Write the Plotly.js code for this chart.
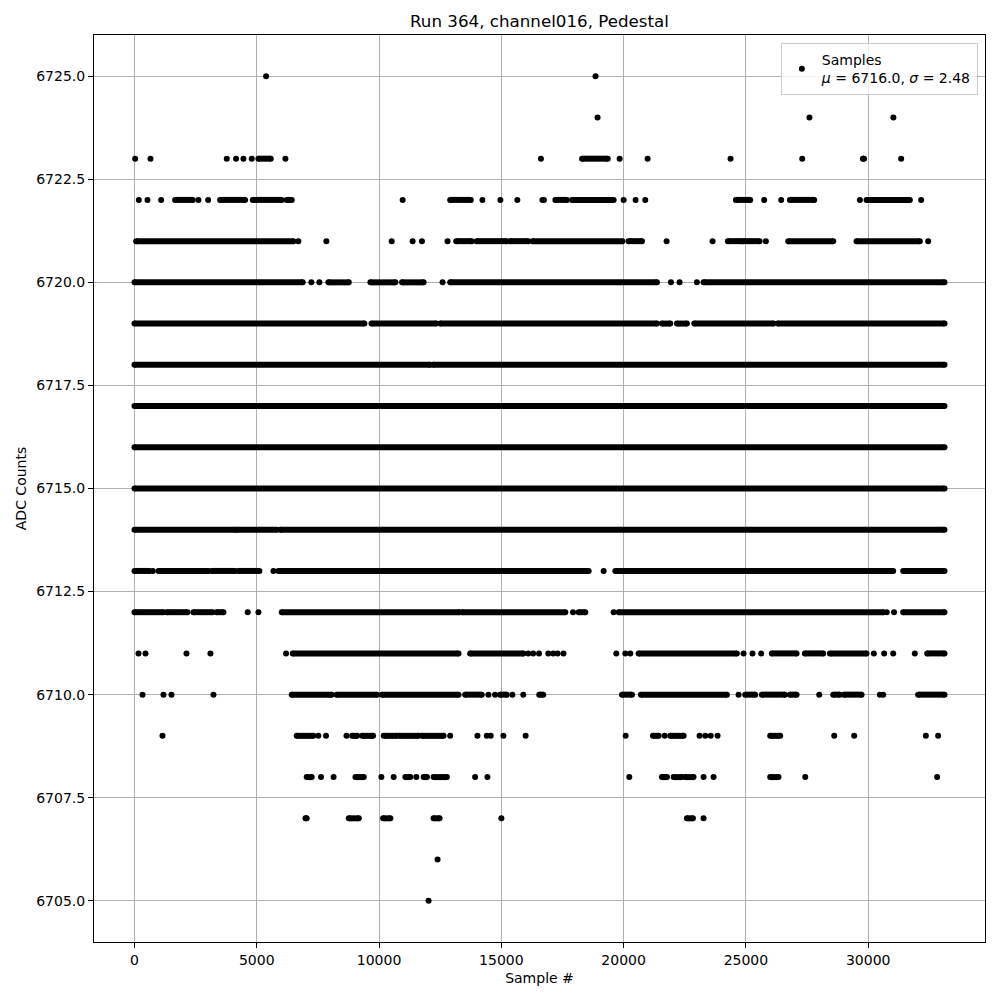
<!DOCTYPE html>
<html>
<head>
<meta charset="utf-8">
<script src="https://cdn.plot.ly/plotly-3.0.1.min.js"></script>
<style>html,body{margin:0;padding:0;background:#fff;}#chart{width:1000px;height:1000px;}</style>
</head>
<body>
<div id="chart"></div>
<script>
// Samples, per ADC level.
// A plain number is one sample; a pair [a, b] is a run of dense samples from a to b.
const lvl6725 = [5380, 18852];
const lvl6724 = [18934, 27598, 31030];
const lvl6723 = [27, 654, 3773, 4154, 4454, 4794, [5066, 5571], 6170, 16618, [18300, 19350], 19837, 20981, 24372, 27303, [29780, 29830], 31348];
const lvl6722 = [177, 531, 1090, [1660, 2384], 2615, 3010, [3500, 4522], [4835, 6020], [6224, 6430], 10965, [12908, 13751], 14226, 14960, 15653, [16680, 16740], [17208, 17685], [17889, 19591], 20000, 20490, 20885, [24590, 25175], 25748, 26442, [26799, 27794], 29660, [29932, 31703], 32166];
const lvl6721 = [[68, 6497], 6701, 7845, 10516, 11372, 11753, 12800, [13153, 13792], [13996, 15218], [15354, 16102], [16279, 19950], [20200, 20750], 21757, 23637, [24263, 24836], [24900, 25557], 25816, [26731, 28570], [29523, 32111], 32452];
const lvl6720 = [[0, 6878], 7232, 7559, [7927, 8762], [9647, 10666], [10938, 11821], 12596, [12908, 21362], 21934, 22288, 22996, [23269, 33120]];
const lvl6719 = [[0, 9400], [9690, 12340], [12500, 21362], [21566, 21907], [22180, 22588], [22888, 26129], [26300, 33120]];
const lvl6718 = [[0, 12093], [12202, 33120]];
const lvl6717 = [[0, 33120]];
const lvl6716 = [[0, 33120]];
const lvl6715 = [[0, 33120]];
const lvl6714 = [[0, 4113], [4181, 5816], [5952, 33120]];
const lvl6713 = [[0, 613], 749, [981, 3024], [3160, 4113], [4249, 5107], 5680, [5884, 18570], 19183, [19660, 31021], [31430, 33120]];
const lvl6712 = [[0, 1185], [1321, 2165], [2411, 3180], [3350, 3636], 4631, 5067, [6020, 13290], [13390, 17616], 17930, [18161, 18433], 19591, [19796, 30620], 30760, 31058, [31430, 33120]];
const lvl6711 = [163, 450, 2125, 3105, 6197, [6470, 13248], [13724, 15900], 16100, 16300, 16540, 16920, 17120, 17300, 17540, 19700, 20068, 20273, [20613, 24630], 24903, 25270, 25625, [26060, 27072], [27412, 28161], [28434, 29932], 30232, 30654, 31022, 31907, [32411, 33120]];
const lvl6710 = [327, 1185, 1512, 3228, [6429, 8063], [8267, 9918], [10122, 13248], [13520, 14199], 14471, 14743, [14947, 15219], 15450, 15898, [16550, 16713], [19932, 20340], [20708, 24222], 24699, [24971, 25380], [25652, 26595], [26800, 27072], 27998, [28570, 28842], [29006, 29728], 30477, 30613, [32043, 33120]];
const lvl6709 = [1144, [6633, 7314], 7518, 7831, 8668, [8900, 9103], [9307, 9755], [10190, 10734], [10829, 11617], [11753, 12637], 12908, 14023, 14403, 14566, 15082, 15993, 20082, [21199, 21430], 21675, [21907, 22452], 23105, 23337, 23560, 23841, [25993, 26401], 28611, 29428, 32357, 32860];
const lvl6708 = [[7041, 7245], 7627, 8140, [9035, 9375], 10095, 10598, [11074, 11277], 11522, [11821, 11957], [12229, 12772], 13927, 14430, 20232, [21566, 21770], [22043, 22384], [22520, 22860], 23269, 23677, [25993, 26333], 27426, 32819];
const lvl6707 = [[6990, 7040], [8763, 9171], [10163, 10462], [12229, 12474], 15001, [22588, 22833], 23269];
const lvl6706 = [12392];
const lvl6705 = [12025];

const levelRuns = [
  [6725, lvl6725], [6724, lvl6724], [6723, lvl6723], [6722, lvl6722], [6721, lvl6721],
  [6720, lvl6720], [6719, lvl6719], [6718, lvl6718], [6717, lvl6717], [6716, lvl6716],
  [6715, lvl6715], [6714, lvl6714], [6713, lvl6713], [6712, lvl6712], [6711, lvl6711],
  [6710, lvl6710], [6709, lvl6709], [6708, lvl6708], [6707, lvl6707], [6706, lvl6706],
  [6705, lvl6705]
];

const chartTitle = 'Run 364, channel016, Pedestal';
const xLabel = 'Sample #';
const yLabel = 'ADC Counts';
const legendText = 'Samples<br><i>μ</i> = 6716.0, <i>σ</i> = 2.48';

const runX = [], runY = [], ptX = [], ptY = [];
levelRuns.forEach(([level, items]) => {
  items.forEach(it => {
    if (Array.isArray(it)) {
      runX.push(it[0], it[1], null); runY.push(level, level, null);
      ptX.push(it[0], it[1]); ptY.push(level, level);
    } else {
      ptX.push(it); ptY.push(level);
    }
  });
});

const font = 'DejaVu Sans, Liberation Sans, sans-serif';

const traces = [
  {x: runX, y: runY, type: 'scatter', mode: 'lines', line: {color: '#000', width: 6},
   showlegend: false, hoverinfo: 'skip', connectgaps: false},
  {x: ptX, y: ptY, type: 'scatter', mode: 'markers', name: legendText,
   marker: {color: '#000', size: 6}, showlegend: true}
];

const axisCommon = {
  showgrid: true, gridcolor: '#b0b0b0', gridwidth: 1,
  zeroline: false, showline: true, linecolor: '#000', linewidth: 1, mirror: true,
  ticks: 'outside', ticklen: 5, tickwidth: 1, tickcolor: '#000',
  tickfont: {family: font, size: 14, color: '#000'}
};

const layout = {
  width: 1000, height: 1000,
  margin: {l: 94, r: 15, t: 35, b: 58},
  paper_bgcolor: '#fff', plot_bgcolor: '#fff',
  font: {family: font, color: '#000'},
  title: {text: chartTitle, font: {family: font, size: 16.7, color: '#000'},
          x: 0.5, xref: 'paper', xanchor: 'center', y: 0.979, yanchor: 'middle'},
  xaxis: Object.assign({}, axisCommon, {
    range: [-1656, 34776], tick0: 0, dtick: 5000, tickformat: 'd',
    title: {text: xLabel, font: {family: font, size: 14, color: '#000'}, standoff: 6}
  }),
  yaxis: Object.assign({}, axisCommon, {
    range: [6704, 6726], tick0: 6705, dtick: 2.5, tickformat: '.1f',
    title: {text: yLabel, font: {family: font, size: 14, color: '#000'}, standoff: 6}
  }),
  showlegend: true,
  legend: {x: 0.992, xanchor: 'right', y: 0.991, yanchor: 'top',
           bgcolor: 'rgba(255,255,255,0.8)', bordercolor: '#cccccc', borderwidth: 1,
           font: {family: font, size: 14, color: '#000'}}
};

Plotly.newPlot('chart', traces, layout, {staticPlot: true, displayModeBar: false});
</script>
</body>
</html>
